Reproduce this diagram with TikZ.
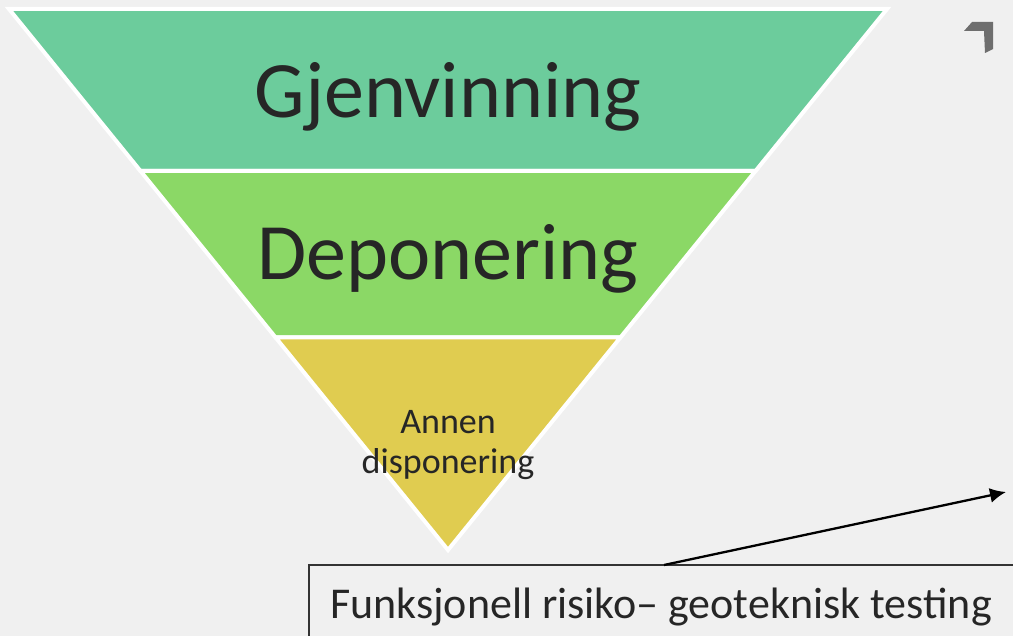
\documentclass[tikz,border=0pt]{standalone}
\usepackage{fontspec}
\setmainfont{Carlito}
\usetikzlibrary{arrows.meta}
\definecolor{bg}{HTML}{F0F0F0}
\definecolor{bandA}{HTML}{6CCC9C}
\definecolor{bandB}{HTML}{8BD866}
\definecolor{bandC}{HTML}{E0CC50}
\definecolor{txt}{HTML}{262626}
\definecolor{markgray}{HTML}{6E6E6E}
\tikzset{
  band/.style={draw=white, line width=4pt, line join=miter},
  bigtext/.style={font=\fontsize{80}{96}\selectfont, text=txt, inner sep=0pt, anchor=base},
  smalltext/.style={font=\fontsize{36}{40}\selectfont, text=txt, inner sep=0pt, anchor=base},
  boxtext/.style={font=\fontsize{44}{52}\selectfont, text=txt, inner sep=0pt, anchor=base west},
  callout/.style={draw=black!80, line width=1.5pt, fill=bg},
  pointer/.style={draw=black, line width=2.3pt, -{Latex[length=16pt,width=15pt]}}
}
\begin{document}
\begin{tikzpicture}[x=1pt,y=-1pt]
\useasboundingbox[fill=bg] (0,0) rectangle (1013,636);
\clip (0,0) rectangle (1013,636);
% bands
\fill[bandA, band] (9,9) -- (887,9) -- (755.5,171) -- (140.5,171) -- cycle;
\fill[bandB, band] (140.5,171) -- (755.5,171) -- (620.4,337.5) -- (275.6,337.5) -- cycle;
\fill[bandC, band] (275.6,337.5) -- (620.4,337.5) -- (448,550) -- cycle;
\node[bigtext] (gj) at (448,118) {Gjenvinning};
\node[bigtext] (dep) at (448,280) {Deponering};
\node[smalltext] (an1) at (448,434) {Annen};
\node[smalltext] (an2) at (448,474) {disponering};
% corner mark
\fill[markgray] (972,22) -- (993,22) -- (993,49) -- (985,53) -- (984,31) -- (964,31) -- cycle;
% callout box
\draw[callout] (309,565) rectangle (1030,660);
\node[boxtext] (box) at (330,618) {Funksjonell risiko– geoteknisk testing};
\coordinate (start) at (664,565);
\coordinate (tip) at (1006,492);
\draw[pointer] (start) -- (tip);
\end{tikzpicture}
\end{document}
